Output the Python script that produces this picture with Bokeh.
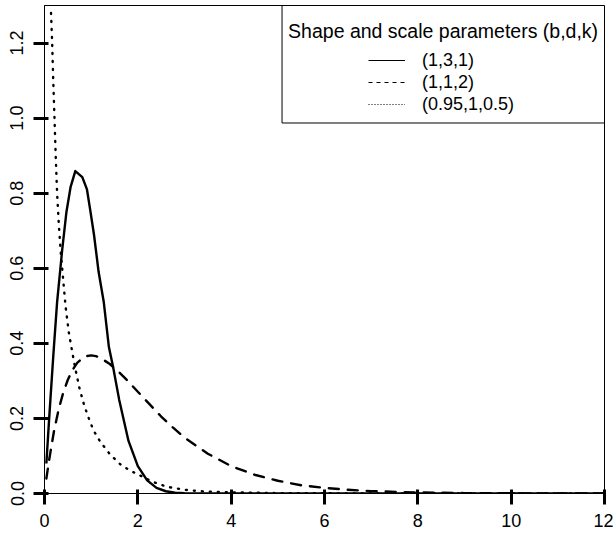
from bokeh.plotting import figure
from bokeh.models import Legend, LegendItem, Label, BoxAnnotation, FixedTicker, Range1d
from bokeh.embed import file_html
from bokeh.resources import INLINE

# ---- data ----
solid_x = [0.04, 0.1, 0.19, 0.27, 0.38, 0.47, 0.56, 0.66, 0.81, 0.91, 0.98, 1.06, 1.16,
           1.27, 1.38, 1.47, 1.6, 1.8, 2.0, 2.2, 2.4, 2.6, 2.8, 3.0, 3.5, 4.0, 6.0, 8.0, 10.0, 12.0]
solid_y = [0.08, 0.2, 0.37, 0.51, 0.65, 0.75, 0.817, 0.859, 0.843, 0.81, 0.755, 0.69, 0.59,
           0.51, 0.39, 0.337, 0.25, 0.14, 0.073, 0.035, 0.015, 0.006, 0.002, 0.0007, 0.0, 0.0, 0.0, 0.0, 0.0, 0.0]

dashed_x = [0.04, 0.1, 0.2, 0.3, 0.4, 0.5, 0.6, 0.7, 0.8, 0.9, 1.0, 1.1, 1.2, 1.4, 1.6, 1.8, 2.0,
            2.25, 2.5, 2.75, 3.0, 3.5, 4.0, 4.5, 5.0, 5.5, 6.0, 6.5, 7.0, 8.0, 9.0, 10.0, 11.0, 12.0]
dashed_y = [0.04, 0.09, 0.164, 0.222, 0.268, 0.303, 0.329, 0.348, 0.359, 0.366, 0.368, 0.366, 0.361,
            0.345, 0.323, 0.298, 0.271, 0.238, 0.205, 0.176, 0.149, 0.106, 0.073, 0.05, 0.034, 0.022,
            0.015, 0.0098, 0.0064, 0.0027, 0.0011, 0.0005, 0.0002, 0.0001]

dotted_x = [0.14, 0.164, 0.19, 0.214, 0.24, 0.27, 0.31, 0.35, 0.4, 0.45, 0.52, 0.59, 0.66, 0.75,
            0.85, 0.95, 1.05, 1.2, 1.4, 1.63, 1.85, 2.05, 2.3, 2.62, 3.0, 3.34, 4.0, 5.0, 6.0, 8.0, 10.0, 12.0]
dotted_y = [1.28, 1.2, 1.09, 1.0, 0.9, 0.8, 0.71, 0.64, 0.57, 0.5, 0.43, 0.38, 0.333, 0.28,
            0.235, 0.2, 0.168, 0.137, 0.105, 0.077, 0.06, 0.048, 0.032, 0.018, 0.01, 0.006, 0.003,
            0.001, 0.0005, 0.0001, 0.0, 0.0]

series_labels = ["(1,3,1)", "(1,1,2)", "(0.95,1,0.5)"]
legend_title = "Shape and scale parameters (b,d,k)"

x_ticks = [0, 2, 4, 6, 8, 10, 12]
x_tick_labels = ["0", "2", "4", "6", "8", "10", "12"]
y_ticks = [0.0, 0.2, 0.4, 0.6, 0.8, 1.0, 1.2]
y_tick_labels = ["0.0", "0.2", "0.4", "0.6", "0.8", "1.0", "1.2"]

FONT = "Liberation Sans"

p = figure(width=613, height=533, x_range=Range1d(0, 12), y_range=Range1d(0, 1.3),
           output_backend="svg", toolbar_location=None,
           min_border_left=44, min_border_right=9, min_border_top=5, min_border_bottom=40)
p.xgrid.visible = False
p.ygrid.visible = False
p.outline_line_color = "black"
p.outline_line_width = 1
p.background_fill_color = "white"
p.border_fill_color = "white"

p.xaxis.ticker = FixedTicker(ticks=x_ticks, minor_ticks=[])
p.xaxis.major_label_overrides = {t: l for t, l in zip(x_ticks, x_tick_labels)}
p.xaxis.major_label_standoff = 9
p.yaxis.ticker = FixedTicker(ticks=y_ticks, minor_ticks=[])
p.yaxis.major_label_overrides = {t: l for t, l in zip(y_ticks, y_tick_labels)}
p.yaxis.major_label_orientation = "vertical"
p.yaxis.major_label_standoff = 10

p.axis.axis_line_color = "black"
p.axis.axis_line_width = 1
p.axis.major_tick_out = 11
p.axis.major_tick_in = 4
p.axis.major_tick_line_color = "black"
p.axis.major_tick_line_width = 3
p.axis.major_label_text_font = FONT
p.axis.major_label_text_font_size = "18px"
p.axis.major_label_text_color = "black"

LW = 2.4
p.line(solid_x, solid_y, line_color="black", line_width=LW, line_join="round")
p.line(dashed_x, dashed_y, line_color="black", line_width=LW, line_dash="10 9", line_cap="round")
p.line(dotted_x, dotted_y, line_color="black", line_width=LW, line_dash="1 7", line_cap="round")

# legend sample renderers (thin lines, as in the reference legend); no visible data
nan = float("nan")
r1 = p.line([nan, nan], [nan, nan], line_color="black", line_width=1)
r2 = p.line([nan, nan], [nan, nan], line_color="black", line_width=1, line_dash="4 4")
r3 = p.line([nan, nan], [nan, nan], line_color="black", line_width=1, line_dash="1 2")

legend = Legend(items=[LegendItem(label=series_labels[0], renderers=[r1]),
                       LegendItem(label=series_labels[1], renderers=[r2]),
                       LegendItem(label=series_labels[2], renderers=[r3])],
                location=(324, 378), padding=0, margin=0, spacing=0,
                glyph_width=37, glyph_height=22, label_height=22, label_standoff=17,
                border_line_alpha=0, background_fill_alpha=0,
                label_text_font=FONT, label_text_font_size="18px", label_text_color="black")
p.add_layout(legend, "center")

box = BoxAnnotation(left=5.09, right=12, bottom=0.987, top=1.3,
                    fill_alpha=0, line_color="black", line_width=1, line_alpha=1)
p.add_layout(box)

title = Label(x=5.22, y=1.231, text=legend_title, text_baseline="alphabetic",
              text_font=FONT, text_font_size="19.5px", text_color="black")
p.add_layout(title)

open("out.html", "w").write(file_html(p, INLINE))
